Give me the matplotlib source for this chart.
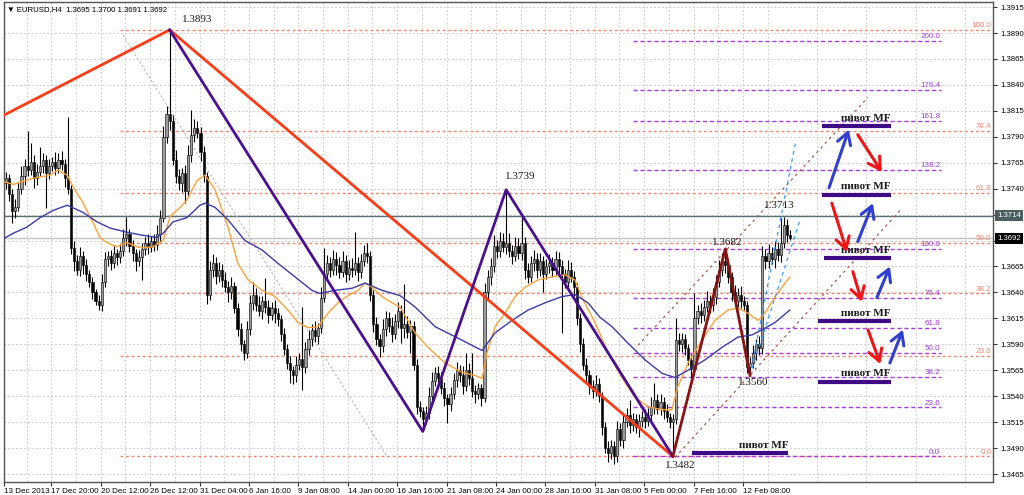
import numpy as np
import matplotlib
matplotlib.use('Agg')
import matplotlib.pyplot as plt
from matplotlib.transforms import blended_transform_factory

# EURUSD H4, prices stored as pips above 1.3400
BASE = 1.34
PIP = 0.0001

first_open = 345
closes = [
    350, 335, 318, 322, 340, 352, 362, 358, 366, 350, 356, 362, 368, 355, 362, 366,
    360, 368, 364, 350, 340, 283, 270, 262, 275, 266, 258, 250, 240, 232, 228, 250,
    272, 275, 268, 278, 274, 280, 292, 296, 285, 278, 270, 274, 282, 288, 284, 290,
    286, 296, 312, 390, 412, 405, 368, 352, 345, 355, 338, 372, 392, 398, 394, 375,
    352, 238, 262, 268, 256, 262, 252, 245, 240, 246, 225, 205, 190, 182, 205, 230,
    238, 228, 222, 232, 226, 218, 225, 220, 214, 200, 185, 172, 165, 160, 170, 176,
    168, 185, 195, 204, 198, 206, 235, 258, 268, 262, 272, 266, 260, 270, 258, 264,
    262, 268, 260, 270, 278, 275, 238, 210, 195, 188, 205, 215, 208, 200, 212, 222,
    206, 210, 202, 208, 170, 130, 126, 118, 124, 140, 155, 162, 158, 148, 138, 132,
    142, 156, 165, 160, 150, 165, 158, 145, 142, 148, 138, 240, 255, 265, 285, 280,
    290, 284, 288, 280, 275, 285, 278, 288, 262, 255, 268, 272, 262, 270, 258, 265,
    268, 262, 272, 265, 258, 250, 262, 255, 245, 215, 190, 170, 160, 150, 145, 152,
    140, 110, 90, 85, 92, 82, 108, 98, 115, 122, 112, 118, 110, 116, 120, 116,
    122, 130, 136, 128, 134, 126, 120, 115, 118, 194, 190, 195, 186, 175, 166, 215,
    222, 218, 226, 232, 228, 236, 250, 262, 270, 266, 255, 240, 232, 238, 232, 228,
    168, 172, 182, 190, 186, 275, 270, 278, 272, 282, 276, 288, 305, 295, 292,
]
wick_up = [
    6, 4, 5, 8, 6, 10, 7, 34, 18, 6, 8, 18, 6, 4, 7, 5,
    9, 6, 8, 5, 59, 4, 7, 6, 9, 5, 6, 4, 5, 3, 6, 8,
    7, 5, 6, 8, 4, 7, 9, 17, 5, 6, 4, 7, 6, 5, 8, 4,
    6, 9, 7, 10, 8, 81, 6, 9, 7, 5, 8, 10, 24, 9, 7, 5,
    6, 4, 8, 9, 6, 7, 5, 8, 6, 9, 4, 5, 6, 4, 7, 8,
    12, 6, 9, 5, 22, 7, 6, 8, 5, 4, 6, 5, 7, 4, 9, 6,
    50, 7, 9, 6, 8, 5, 10, 25, 8, 6, 9, 7, 8, 10, 6, 7,
    9, 30, 6, 7, 8, 10, 5, 4, 6, 5, 9, 7, 6, 8, 7, 9,
    6, 38, 7, 5, 4, 6, 5, 4, 7, 9, 8, 6, 7, 5, 6, 4,
    7, 6, 8, 5, 9, 17, 7, 24, 6, 5, 4, 9, 7, 8, 10, 6,
    8, 7, 51, 9, 6, 8, 7, 25, 5, 6, 7, 9, 6, 8, 5, 7,
    9, 6, 8, 7, 6, 5, 9, 7, 6, 4, 5, 6, 7, 5, 6, 8,
    6, 4, 5, 7, 6, 5, 8, 6, 9, 7, 14, 6, 5, 7, 6, 8,
    7, 9, 17, 6, 8, 5, 6, 4, 5, 21, 7, 6, 5, 4, 6, 24,
    6, 8, 7, 9, 6, 8, 7, 9, 8, 12, 6, 5, 7, 6, 8, 5,
    4, 6, 7, 5, 8, 10, 7, 9, 6, 8, 7, 24, 8, 6, 5,
]
wick_dn = [
    5, 7, 11, 6, 4, 5, 8, 6, 5, 9, 6, 4, 7, 34, 6, 5,
    7, 5, 6, 8, 5, 6, 9, 5, 6, 8, 7, 5, 6, 4, 5, 6,
    5, 7, 6, 4, 8, 6, 5, 7, 6, 8, 9, 5, 22, 6, 7, 5,
    6, 5, 7, 4, 6, 8, 5, 7, 6, 8, 12, 5, 6, 7, 5, 8,
    6, 9, 5, 7, 8, 6, 7, 5, 9, 6, 5, 7, 6, 7, 5, 6,
    7, 6, 5, 8, 6, 7, 5, 9, 6, 7, 5, 6, 12, 8, 6, 5,
    22, 6, 5, 7, 6, 8, 5, 4, 6, 7, 5, 9, 6, 5, 8, 6,
    7, 5, 9, 6, 5, 7, 6, 8, 6, 10, 5, 7, 6, 8, 5, 6,
    15, 10, 6, 20, 5, 7, 6, 12, 5, 6, 7, 5, 8, 6, 7, 18,
    6, 5, 7, 6, 8, 5, 7, 6, 9, 5, 7, 4, 6, 8, 5, 7,
    6, 5, 7, 6, 8, 5, 6, 7, 9, 6, 5, 7, 8, 6, 18, 5,
    6, 7, 5, 8, 57, 6, 7, 5, 8, 6, 7, 5, 6, 8, 7, 5,
    6, 7, 5, 8, 6, 7, 5, 6, 8, 5, 7, 6, 5, 9, 6, 7,
    5, 6, 7, 5, 6, 8, 5, 6, 33, 5, 6, 7, 6, 5, 8, 6,
    5, 7, 6, 5, 8, 6, 7, 5, 6, 7, 6, 8, 5, 6, 7, 5,
    6, 8, 5, 7, 6, 5, 7, 6, 5, 8, 6, 7, 5, 6, 1,
]

# moving averages (bar index, price)
fast_ma_bars = [-1.9, 2.3, 8.7, 14.3, 16.8, 19.8, 21.7, 25, 28.2, 30.4, 32.7, 35.9, 39.2, 42.4,
                44.4, 47.6, 50.9, 53.1, 56.4, 58.6, 61.9, 64.5, 67.7, 71.9, 75.1, 78.4, 82.9,
                87.1, 91.3, 94.6, 97.8, 101, 104.3, 107.5, 110.8, 114, 116.3, 118.5, 121.8, 125,
                127.6, 132.5, 136.7, 142.2, 147.7, 151.9, 154.2, 155.8, 158.4, 161.6, 164.9,
                168.1, 172.3, 176.8, 181.1, 184.3, 186.9, 190.8, 195, 199.5, 203.7, 207.9,
                212.5, 215.7, 217.6, 220.9, 225.4, 229.6, 233.8, 237.1, 240.3, 243.6, 245.8,
                249.1, 253.9]
fast_ma = [1.3748, 1.3744, 1.3750, 1.3753, 1.3758, 1.3753, 1.3742, 1.3726, 1.3707, 1.3693,
           1.3688, 1.3684, 1.3688, 1.3684, 1.3683, 1.3684, 1.3690, 1.3713, 1.3722, 1.3729,
           1.3748, 1.3753, 1.3739, 1.3703, 1.3668, 1.3652, 1.3642, 1.3636, 1.3623, 1.3611,
           1.3606, 1.3607, 1.3620, 1.3630, 1.3637, 1.3642, 1.3649, 1.3645, 1.3636, 1.3630,
           1.3626, 1.3601, 1.3587, 1.3572, 1.3563, 1.3560, 1.3557, 1.3582, 1.3607, 1.3620,
           1.3636, 1.3645, 1.3652, 1.3655, 1.3657, 1.3652, 1.3633, 1.3611, 1.3582, 1.3558,
           1.3539, 1.3530, 1.3527, 1.3527, 1.3549, 1.3572, 1.3594, 1.3613, 1.3623, 1.3625,
           1.3620, 1.3613, 1.3620, 1.3636, 1.3655]
slow_ma_bars = [-1.9, 2.3, 6.8, 11, 15.2, 19.8, 21.4, 25, 29.5, 33.7, 39.2, 44.4, 48.9, 50.9,
                54.1, 58.6, 62.8, 64.5, 67.7, 71.9, 77.4, 82.9, 88.1, 93.6, 99.1, 101.7, 106.6,
                112.1, 116.3, 121.8, 127.6, 132.5, 139, 147.7, 154.2, 158.4, 163.9, 169.1,
                174.6, 180.1, 184.3, 188.5, 192.4, 196.3, 201.5, 207, 212.5, 216.7, 220.9,
                226.4, 231.9, 237.1, 241.6, 244.9, 249.1, 253.9]
slow_ma = [1.3690, 1.3697, 1.3703, 1.3712, 1.3719, 1.3724, 1.3722, 1.3717, 1.3708, 1.3702,
           1.3698, 1.3695, 1.3693, 1.3697, 1.3708, 1.3712, 1.3724, 1.3726, 1.3722, 1.3710,
           1.3690, 1.3681, 1.3668, 1.3655, 1.3642, 1.3639, 1.3642, 1.3644, 1.3649, 1.3642,
           1.3637, 1.3626, 1.3607, 1.3594, 1.3584, 1.3601, 1.3613, 1.3623, 1.3630, 1.3636,
           1.3638, 1.3630, 1.3616, 1.3607, 1.3591, 1.3575, 1.3562, 1.3558, 1.3565, 1.3575,
           1.3587, 1.3597, 1.3599, 1.3604, 1.3611, 1.3623]

date_labels = ["13 Dec 2013", "17 Dec 20:00", "20 Dec 12:00", "26 Dec 12:00", "31 Dec 04:00",
               "6 Jan 16:00", "9 Jan 08:00", "14 Jan 00:00", "16 Jan 16:00", "21 Jan 08:00",
               "24 Jan 00:00", "28 Jan 16:00", "31 Jan 08:00", "5 Feb 00:00", "7 Feb 16:00",
               "12 Feb 08:00"]

# zigzags
zz_red_bars = [-1.9, 53, 216]
zz_red = [1.3809, 1.3893, 1.3482]
zz_purple_bars = [53, 135, 162, 216]
zz_purple = [1.3893, 1.3506, 1.3739, 1.3482]
zz_maroon_bars = [216, 233, 241]
zz_maroon = [1.3482, 1.3682, 1.3560]

pivot_labels = ["1.3893", "1.3739", "1.3713", "1.3682", "1.3560", "1.3482"]
pivot_label_bars = [61.9, 166.5, 250.6, 233.5, 241.9, 218.3]
pivot_label_prices = [1.3903, 1.3752, 1.3724, 1.3688, 1.3553, 1.3473]

# fibonacci grids
fib1_hi, fib1_lo = 1.3893, 1.3482
fib1_levels = [0.0, 23.6, 38.2, 50.0, 61.8, 76.4, 100.0]
fib2_lo, fib2_hi = 1.3482, 1.3682
fib2_levels = [0.0, 23.6, 38.2, 50.0, 61.8, 76.4, 100.0, 138.2, 161.8, 176.4, 200.0]

# "пивот MF" levels: start bar, end bar, price
pivot_start = [264.3, 264.3, 265.0, 263.0, 263.0, 222.2]
pivot_end = [286.6, 286.6, 286.6, 286.6, 286.6, 253.3]
pivot_price = [1.3800, 1.3734, 1.3673, 1.3612, 1.3554, 1.3485]

# trend / channel lines: (bar0, price0, bar1, price1)
grey_line = (37.9, 1.3888, 123.4, 1.3482)
channel_lines = [(204.7, 1.3589, 279.2, 1.3828), (216.7, 1.3481, 290.2, 1.3721)]
blue_lines = [(241.0, 1.3560, 255.9, 1.3787), (241.0, 1.3560, 257.2, 1.3710)]

# forecast arrows: (bar0, price0, bar1, price1)
blue_arrows = [(266.6, 1.3741, 273.0, 1.3797), (275.9, 1.3689, 280.8, 1.3726),
               (282.1, 1.3635, 286.3, 1.3665), (286.3, 1.3572, 290.5, 1.3604)]
red_arrows = [(275.9, 1.3792, 283.7, 1.3756), (267.5, 1.3726, 272.4, 1.3679),
              (274.3, 1.3660, 277.2, 1.3631), (279.2, 1.3604, 283.2, 1.3571)]

level_line = 1.3714
bid = 1.3692

# ---------------------------------------------------------------
XMIN, XMAX = -0.65, 319.7
YMIN, YMAX = 1.34573, 1.39199

fig = plt.figure(figsize=(10.24, 4.95), dpi=100)
ax = fig.add_axes([4 / 1024, 13 / 495, 989 / 1024, 480 / 495])
ax.set_xlim(XMIN, XMAX)
ax.set_ylim(YMIN, YMAX)

sans = ['Liberation Sans', 'DejaVu Sans']
serif = ['Liberation Serif', 'DejaVu Serif']

# grid
xt = np.arange(16) * 16 - 1.3
xt[0] = -0.55
ax.set_xticks(xt)
ax.set_xticklabels(date_labels, ha='left', fontsize=5.8, family=sans)
ax.set_xticks(np.arange(-1.3 + 8, XMAX, 16), minor=True)
yt = np.round(1.3465 + 0.0025 * np.arange(19), 4)
ax.set_yticks(yt)
ax.set_yticklabels(['' if v in (1.3715, 1.3690) else f'{v:.4f}' for v in yt],
                   fontsize=5.6, family=sans)
ax.yaxis.tick_right()
ax.tick_params(axis='x', which='major', length=3, pad=1, color='#333333')
ax.tick_params(axis='x', which='minor', length=0)
ax.tick_params(axis='y', length=3, pad=2, color='#333333')
ax.grid(which='both', color='#CFCFCF', linestyle=(0, (2, 2)), lw=0.7)
ax.set_axisbelow(True)
for s in ax.spines.values():
    s.set_color('#555555')
    s.set_linewidth(1.0)

# fib grids
for r in fib1_levels:
    p = fib1_lo + r / 100 * (fib1_hi - fib1_lo)
    ax.plot([36.9, XMAX], [p, p], color='#F7846E', ls=(0, (2, 2)), lw=1.0, zorder=1.5)
    ax.text(319.2, p + 0.00008, f'{r:.1f}', color='#F7846E', fontsize=5.8, family=sans,
            ha='right', va='bottom', zorder=6)
for r in fib2_levels:
    p = fib2_lo + r / 100 * (fib2_hi - fib2_lo)
    ax.plot([203.1, 302.8], [p, p], color='#A43CE0', ls=(0, (3, 2)), lw=1.0, zorder=1.6)
    ax.text(302.6, p + 0.00008, f'{r:.1f}', color='#A43CE0', fontsize=5.8, family=sans,
            ha='right', va='bottom', zorder=6)

ax.axhline(level_line, color='#5B7070', lw=1.0, zorder=1.7)
ax.axhline(bid, color='#C4C4C4', lw=1.0, zorder=1.7)

ax.plot([grey_line[0], grey_line[2]], [grey_line[1], grey_line[3]],
        color='#B8B8B8', ls=(0, (2, 2)), lw=0.8, zorder=1.8)

# candles
c = np.array(closes, float)
o = np.concatenate([[first_open], c[:-1]])
hi = np.maximum(o, c) + np.array(wick_up)
lo = np.minimum(o, c) - np.array(wick_dn)
idx = np.arange(len(c))
ax.vlines(idx, BASE + lo * PIP, BASE + hi * PIP, color='black', lw=0.8, zorder=3)
bull = c >= o
ax.bar(idx[bull], np.maximum(c - o, 0.6)[bull] * PIP, bottom=BASE + o[bull] * PIP, width=0.7,
       color='#9C9C9C', edgecolor='black', lw=0.4, zorder=4)
ax.bar(idx[~bull], (o - c)[~bull] * PIP, bottom=BASE + c[~bull] * PIP, width=0.7,
       color='black', edgecolor='black', lw=0.4, zorder=4)

# moving averages
ax.plot(fast_ma_bars, fast_ma, color='#FFA336', lw=1.0, zorder=5)
ax.plot(slow_ma_bars, slow_ma, color='#3A3AA8', lw=1.0, zorder=5)

# channels
for b0, p0, b1, p1 in channel_lines:
    ax.plot([b0, b1], [p0, p1], color='#A85848', ls=(0, (2, 3)), lw=0.9, zorder=5)
for b0, p0, b1, p1 in blue_lines:
    ax.plot([b0, b1], [p0, p1], color='#3A9BFF', ls=(0, (3, 3)), lw=0.9, zorder=5)

# zigzags
ax.plot(zz_red_bars, zz_red, color='#FF3B14', lw=2.0, zorder=6)
ax.plot(zz_purple_bars, zz_purple, color='#4B0F91', lw=2.0, zorder=6)
ax.plot(zz_maroon_bars, zz_maroon, color='#8B1010', lw=2.0, zorder=6)

for t, b, p in zip(pivot_labels, pivot_label_bars, pivot_label_prices):
    ax.text(b, p, t, fontsize=8, family=serif, ha='center', va='center', color='#1A1A1A', zorder=7)

# pivot MF levels
for b0, b1, p in zip(pivot_start, pivot_end, pivot_price):
    ax.plot([b0, b1], [p, p], color='#3E0A86', lw=3.0, solid_capstyle='butt', zorder=6)
    ax.text(b1, p + 0.00035, 'пивот MF', fontsize=8, family=serif, fontweight='bold',
            ha='right', va='bottom', color='#1A1A1A', zorder=7)

# arrows
for arrows, col in ((blue_arrows, '#2F3FD2'), (red_arrows, '#F21414')):
    for b0, p0, b1, p1 in arrows:
        ax.annotate('', xy=(b1, p1), xytext=(b0, p0),
                    arrowprops=dict(arrowstyle='->,head_length=0.6,head_width=0.35',
                                    color=col, lw=2.2, mutation_scale=14, shrinkA=0, shrinkB=0),
                    zorder=8)

# price boxes on the axis
tr = blended_transform_factory(ax.transAxes, ax.transData)
ax.text(1.004, level_line, f'{level_line:.4f}', transform=tr, ha='left', va='center',
        fontsize=5.6, family=sans, color='white', clip_on=False, zorder=10,
        bbox=dict(boxstyle='square,pad=0.3', fc='#4A5E5E', ec='none'))
ax.text(1.004, bid, f'{bid:.4f}', transform=tr, ha='left', va='center',
        fontsize=5.6, family=sans, color='white', clip_on=False, zorder=10,
        bbox=dict(boxstyle='square,pad=0.3', fc='black', ec='none'))

ax.text(0.003, 0.992, '▼ EURUSD,H4  1.3695 1.3700 1.3691 1.3692', transform=ax.transAxes,
        fontsize=5.6, family=sans, ha='left', va='top', color='black', zorder=10)

fig.savefig('out.png', dpi=100)
